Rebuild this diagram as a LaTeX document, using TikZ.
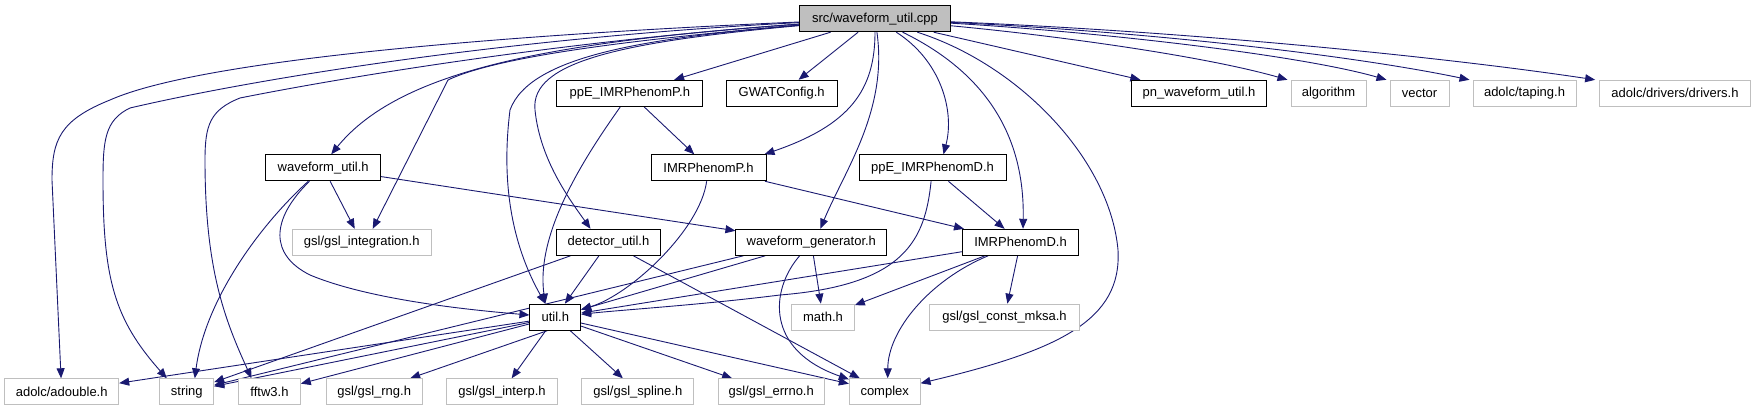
\documentclass[tikz,border=0pt]{standalone}
\usepackage{fontspec}
\setmainfont{Liberation Sans}
\usetikzlibrary{arrows.meta}
\definecolor{edgec}{HTML}{191970}
\definecolor{grey75}{HTML}{BFBFBF}
\pgfdeclarelayer{bg}
\pgfsetlayers{bg,main}
\tikzset{
  box/.style={draw=black, fill=white, line width=1pt, minimum height=26pt, inner sep=0pt,
              font=\fontsize{13}{15}\selectfont, text=black},
  doc/.style={box},
  sys/.style={box, draw=grey75},
  root/.style={box, fill=grey75, draw=black},
  inc/.style={draw=edgec, line width=0.9pt, -{Triangle[length=10pt,width=8pt]}},
}
\begin{document}
\begin{tikzpicture}[x=1pt,y=-1pt]
\useasboundingbox (0,0) rectangle (1756,411);
% row 1
\node[root, minimum width=150.7pt] (src) at (875,18.7) {src/waveform\_util.cpp};
% row 2
\node[doc, minimum width=145.7pt] (ppEP) at (629.8,93.3) {ppE\_IMRPhenomP.h};
\node[doc, minimum width=110.7pt] (gwat) at (781.7,93.3) {GWATConfig.h};
\node[doc, minimum width=135.3pt] (pn) at (1199,93.3) {pn\_waveform\_util.h};
\node[sys, minimum width=75pt] (alg) at (1328.5,93.3) {algorithm};
\node[sys, minimum width=59pt] (vec) at (1419.5,93.3) {vector};
\node[sys, minimum width=103pt] (tap) at (1524.5,93.3) {adolc/taping.h};
\node[sys, minimum width=150.7pt] (drv) at (1675,93.3) {adolc/drivers/drivers.h};
% row 3
\node[doc, minimum width=115pt] (wfu) at (323.2,167.8) {waveform\_util.h};
\node[doc, minimum width=115pt] (imrp) at (708.5,167.8) {IMRPhenomP.h};
\node[doc, minimum width=147pt] (ppED) at (932.5,167.8) {ppE\_IMRPhenomD.h};
% row 4
\node[sys, minimum width=138.7pt] (gint) at (361.7,242.3) {gsl/gsl\_integration.h};
\node[doc, minimum width=104.3pt] (det) at (608.5,242.3) {detector\_util.h};
\node[doc, minimum width=150.7pt] (wgen) at (811.3,242.3) {waveform\_generator.h};
\node[doc, minimum width=116.3pt] (imrd) at (1020.5,242.3) {IMRPhenomD.h};
% row 5
\node[doc, minimum width=50.7pt] (util) at (555.3,317.2) {util.h};
\node[sys, minimum width=62.7pt] (math) at (823,317.2) {math.h};
\node[sys, minimum width=149.7pt] (mksa) at (1004.5,317.2) {gsl/gsl\_const\_mksa.h};
% row 6
\node[sys, minimum width=114pt] (adb) at (61.7,391.8) {adolc/adouble.h};
\node[sys, minimum width=53.7pt] (str) at (186.8,391.8) {string};
\node[sys, minimum width=61.6pt] (fftw) at (269.5,391.8) {fftw3.h};
\node[sys, minimum width=96.3pt] (rng) at (374.2,391.8) {gsl/gsl\_rng.h};
\node[sys, minimum width=110.6pt] (interp) at (502,391.8) {gsl/gsl\_interp.h};
\node[sys, minimum width=111.7pt] (spline) at (637.8,391.8) {gsl/gsl\_spline.h};
\node[sys, minimum width=106.3pt] (errno) at (771.2,391.8) {gsl/gsl\_errno.h};
\node[sys, minimum width=70.7pt] (cplx) at (884.7,391.8) {complex};

\begin{pgfonlayer}{bg}
% from src
\draw[inc] (src) .. controls (500,35) and (200,60) .. (110,100) .. controls (60,120) and (52,140) .. (52,180) -- (adb);
\draw[inc] (src) .. controls (500,38) and (250,80) .. (130,108) .. controls (105,120) and (103,140) .. (103,180) .. controls (103,280) and (115,320) .. ([xshift=-20pt]str.north);
\draw[inc] (src) .. controls (550,42) and (330,80) .. (240,98) .. controls (210,110) and (205,125) .. (205,160) .. controls (205,270) and (225,320) .. ([xshift=-18pt]fftw.north);
\draw[inc] (src) .. controls (650,38) and (500,55) .. (448,80) -- ([xshift=11pt]gint.north);
\draw[inc] (src) .. controls (550,42) and (400,70) .. ([xshift=8pt]wfu.north);
\draw[inc] (src) .. controls (650,38) and (530,55) .. (510,110) .. controls (500,190) and (515,250) .. ([xshift=-10pt]util.north);
\draw[inc] (src) .. controls (620,42) and (530,62) .. (535,110) .. controls (540,160) and (570,200) .. ([xshift=-18pt]det.north);
\draw[inc] (src) -- (ppEP);
\draw[inc] (src) -- (gwat);
\draw[inc] (src) .. controls (875,90) and (850,125) .. ([xshift=-2pt]imrp.north east);
\draw[inc] (src) .. controls (888,110) and (845,170) .. ([xshift=9pt]wgen.north);
\draw[inc] (src) .. controls (940,60) and (955,110) .. ([xshift=11pt]ppED.north);
\draw[inc] (src) .. controls (980,70) and (1025,130) .. ([xshift=2.5pt]imrd.north);
\draw[inc] (src) .. controls (1020,65) and (1110,160) .. (1118,250) .. controls (1122,320) and (1060,350) .. (cplx);
\draw[inc] (src) -- (pn);
\draw[inc] (src) .. controls (1050,35) and (1200,55) .. ([xshift=-3pt]alg.north west);
\draw[inc] (src) .. controls (1100,32) and (1300,55) .. ([xshift=-3pt]vec.north west);
\draw[inc] (src) .. controls (1150,32) and (1350,55) .. ([xshift=-3pt]tap.north west);
\draw[inc] (src) .. controls (1200,32) and (1450,58) .. ([xshift=-4pt]drv.north west);
% ppE_IMRPhenomP.h
\draw[inc] (ppEP) .. controls (590,150) and (535,230) .. ([xshift=-10pt]util.north);
\draw[inc] (ppEP) -- (imrp);
% waveform_util.h
\draw[inc] (wfu) -- (gint);
\draw[inc] (wfu) .. controls (270,220) and (270,255) .. (310,275) .. controls (370,300) and (470,310) .. (util);
\draw[inc] (wfu) .. controls (260,225) and (205,300) .. ([xshift=8pt]str.north);
\draw[inc] (wfu) -- (wgen);
% IMRPhenomP.h
\draw[inc] (imrp) .. controls (700,230) and (630,295) .. (util);
\draw[inc] (imrp) -- (imrd);
% ppE_IMRPhenomD.h
\draw[inc] (ppED) .. controls (925,240) and (905,285) .. (780,295) .. controls (700,305) and (620,310) .. (util);
\draw[inc] (ppED) -- (imrd);
% detector_util.h
\draw[inc] (det) -- (util);
\draw[inc] (det) -- (str);
\draw[inc] (det) -- (cplx);
% waveform_generator.h
\draw[inc] (wgen) -- (util);
\draw[inc] ([xshift=-68pt]wgen.south) -- (str);
\draw[inc] (wgen) -- (math);
\draw[inc] (wgen) .. controls (770,290) and (765,350) .. (cplx);
% IMRPhenomD.h
\draw[inc] (imrd) -- (util);
\draw[inc] (imrd) -- (math);
\draw[inc] (imrd) -- (mksa);
\draw[inc] (imrd) .. controls (930,280) and (888,330) .. ([xshift=3pt]cplx.north);
% util.h
\draw[inc] (util) -- (adb);
\draw[inc] (util) -- (str);
\draw[inc] (util) -- (fftw);
\draw[inc] ([xshift=-8pt]util.south) -- ([xshift=36pt]rng.north);
\draw[inc] (util) -- (interp);
\draw[inc] (util) -- (spline);
\draw[inc] (util) -- (errno);
\draw[inc] (util) -- (cplx);
\end{pgfonlayer}
\end{tikzpicture}
\end{document}
